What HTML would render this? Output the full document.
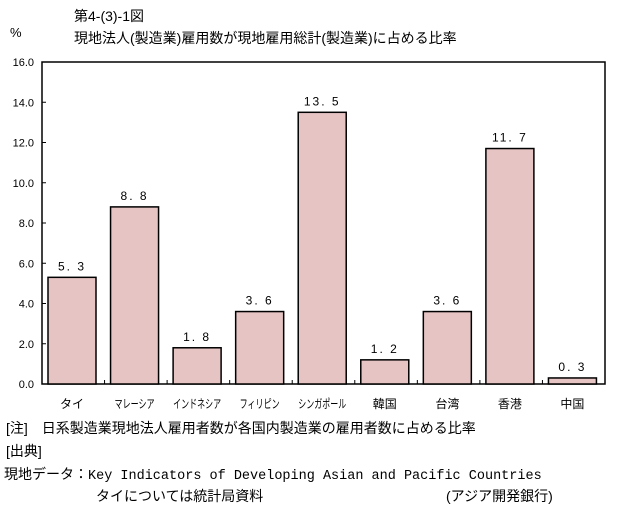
<!DOCTYPE html>
<html><head><meta charset="utf-8"><style>
body{margin:0;background:#fff;width:617px;height:507px;overflow:hidden;font-family:"Liberation Sans","Noto Sans CJK JP",sans-serif;}
svg text{font-family:"Liberation Sans","Noto Sans CJK JP",sans-serif;fill:#000;}
</style></head><body>
<svg id="chart" width="617" height="507">
<text x="74" y="21" font-size="14">第4-(3)-1図</text>
<text x="74" y="43" font-size="14">現地法人(製造業)雇用数が現地雇用総計(製造業)に占める比率</text>
<text x="10" y="37" font-size="13">%</text>
<rect x="42" y="62" width="563" height="322" fill="none" stroke="#000" stroke-width="1.5"/>
<g id="yaxis"></g><g id="bars"></g>
<text x="6" y="433" font-size="14">[注]　日系製造業現地法人雇用者数が各国内製造業の雇用者数に占める比率</text>
<text x="6" y="456" font-size="14">[出典]</text>
<text x="4" y="479" font-size="14">現地データ：<tspan font-family="Liberation Mono" font-size="13.5">Key Indicators of Developing Asian and Pacific Countries</tspan></text>
<text x="96" y="501" font-size="14">タイについては統計局資料</text>
<text x="446" y="501" font-size="14">(アジア開発銀行)</text>
</svg>
<script>
const categories=["タイ","マレーシア","インドネシア","フィリピン","シンガポール","韓国","台湾","香港","中国"];
const values=[5.3,8.8,1.8,3.6,13.5,1.2,3.6,11.7,0.3];
const yTicks=[0,2,4,6,8,10,12,14,16];
const NS="http://www.w3.org/2000/svg";
const x0=42,plotW=563,yBottom=384,yTop=62,yMax=16;
const band=plotW/categories.length;
const y=v=>yBottom-(v/yMax)*(yBottom-yTop);
const xs=i=>x0+i*band;
function mk(tag,attrs,parent){const e=document.createElementNS(NS,tag);for(const k in attrs)e.setAttribute(k,attrs[k]);parent.appendChild(e);return e;}
const ya=document.getElementById('yaxis'),bg=document.getElementById('bars');
yTicks.forEach(t=>{
  const l=mk('line',{x1:x0,x2:x0+4,y1:y(t),y2:y(t),stroke:'#000'},ya);
  
  
  const tx=mk('text',{x:34,y:y(t)+4,'font-size':11,'text-anchor':'end'},ya);
  tx.textContent=t.toFixed(1);
  
  
});
categories.forEach((c,i)=>{
  if(i>0){const tk=mk('line',{x1:xs(i),x2:xs(i),y1:yBottom,y2:yBottom-4,stroke:'#000'},bg);
  
  }
  const bx=xs(i)+6,bw=48;
  const r=mk('rect',{x:bx,y:y(values[i]),width:bw,height:yBottom-y(values[i]),fill:'#e7c4c4',stroke:'#000','stroke-width':1.5},bg);
  
  
  const vl=mk('text',{x:bx+bw/2,y:y(values[i])-7,'font-size':12,'text-anchor':'middle','letter-spacing':'2'},bg);
  vl.textContent=values[i].toFixed(1).replace('.','. ');
  
  
  const cl=mk('text',{x:bx+bw/2,y:408,'font-size':12,'text-anchor':'middle'},bg);
  cl.textContent=c;
  if(c.length>3){cl.setAttribute('textLength',c.length*8);cl.setAttribute('lengthAdjust','spacingAndGlyphs');}
  
  
});
</script>
</body></html>
